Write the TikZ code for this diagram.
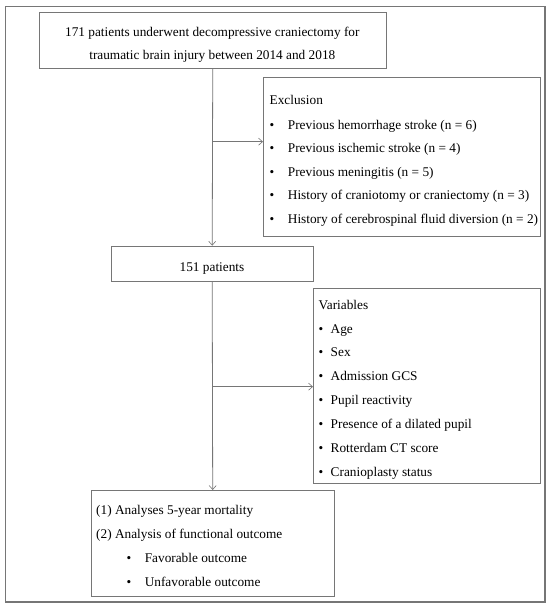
\documentclass[tikz,border=0pt]{standalone}
\usepackage{fontspec}
\setmainfont{Liberation Serif}
\usetikzlibrary{arrows.meta}
\definecolor{linegray}{RGB}{118,118,118}
\begin{document}
\begin{tikzpicture}[x=1pt,y=-1pt,
  box/.style={draw=linegray,line width=0.9pt,inner sep=0pt,anchor=north west},
  txt/.style={inner sep=0pt,text height=9pt,text depth=0pt,font=\fontsize{13.3}{15}\selectfont},
  lt/.style={txt,anchor=west},
  bul/.style={txt,anchor=center},
  arr/.style={draw=linegray,line width=0.8pt,-{Straight Barb[length=4pt,width=7pt,line width=0.6pt]}},
  conn/.style={draw=linegray,line width=0.8pt}]
\useasboundingbox (0,0) rectangle (550,609);
\fill[white] (0,0) rectangle (550,609);
\draw[linegray,line width=1.3pt] (5.7,6.3) rectangle (545,602);
% box 1
\node[box,minimum width=347.4pt,minimum height=56.3pt] (b1) at (38.6,11.7) {};
\node[txt] (t1a) at (212.3,32) {171 patients underwent decompressive craniectomy for};
\node[txt] (t1b) at (212.3,55) {traumatic brain injury between 2014 and 2018};
% exclusion box
\node[box,minimum width=277pt,minimum height=159pt] (excl) at (263,76.7) {};
\node[lt] (e0) at (269.5,100) {Exclusion};
\node[bul] (eb1) at (272,125) {\textbullet};
\node[lt] (e1) at (287.7,125) {Previous hemorrhage stroke (n = 6)};
\node[bul] (eb2) at (272,148.3) {\textbullet};
\node[lt] (e2) at (287.7,148.3) {Previous ischemic stroke (n = 4)};
\node[bul] (eb3) at (272,171.7) {\textbullet};
\node[lt] (e3) at (287.7,171.7) {Previous meningitis (n = 5)};
\node[bul] (eb4) at (272,195) {\textbullet};
\node[lt] (e4) at (287.7,195) {History of craniotomy or craniectomy (n = 3)};
\node[bul] (eb5) at (272,219) {\textbullet};
\node[lt] (e5) at (287.7,219) {History of cerebrospinal fluid diversion (n = 2)};
% box 2
\node[box,minimum width=202.5pt,minimum height=35.3pt] (b2) at (110.5,245.7) {};
\node[txt] (t2) at (212,266.7) {151 patients};
% variables box
\node[box,minimum width=227pt,minimum height=195pt] (vars) at (313,288) {};
\node[lt] (v0) at (318.5,305) {Variables};
\node[bul] (vb1) at (321,328.5) {\textbullet};
\node[lt] (v1) at (330.5,328.5) {Age};
\node[bul] (vb2) at (321,352) {\textbullet};
\node[lt] (v2) at (330.5,352) {Sex};
\node[bul] (vb3) at (321,375.5) {\textbullet};
\node[lt] (v3) at (330.5,375.5) {Admission GCS};
\node[bul] (vb4) at (321,400) {\textbullet};
\node[lt] (v4) at (330.5,400) {Pupil reactivity};
\node[bul] (vb5) at (321,424) {\textbullet};
\node[lt] (v5) at (330.5,424) {Presence of a dilated pupil};
\node[bul] (vb6) at (321,448) {\textbullet};
\node[lt] (v6) at (330.5,448) {Rotterdam CT score};
\node[bul] (vb7) at (321,471.7) {\textbullet};
\node[lt] (v7) at (330.5,471.7) {Cranioplasty status};
% box 3
\node[box,minimum width=243.5pt,minimum height=105.5pt] (b3) at (90.5,490) {};
\node[lt] (o1) at (96,510) {(1) Analyses 5-year mortality};
\node[lt] (o2) at (96,534) {(2) Analysis of functional outcome};
\node[bul] (ob1) at (129,557.5) {\textbullet};
\node[lt] (o3) at (144.6,557.5) {Favorable outcome};
\node[bul] (ob2) at (129,581.7) {\textbullet};
\node[lt] (o4) at (144.6,581.7) {Unfavorable outcome};
% connectors
\coordinate (j1) at (b1.south |- 0,141.7);
\coordinate (j2) at (b2.south |- 0,386.7);
\draw[arr] (b1.south) -- (b2.north);
\draw[arr] (j1) -- (j1 -| excl.west);
\draw[arr] (b2.south) -- (b3.north);
\draw[arr] (j2) -- (j2 -| vars.west);
\end{tikzpicture}
\end{document}
